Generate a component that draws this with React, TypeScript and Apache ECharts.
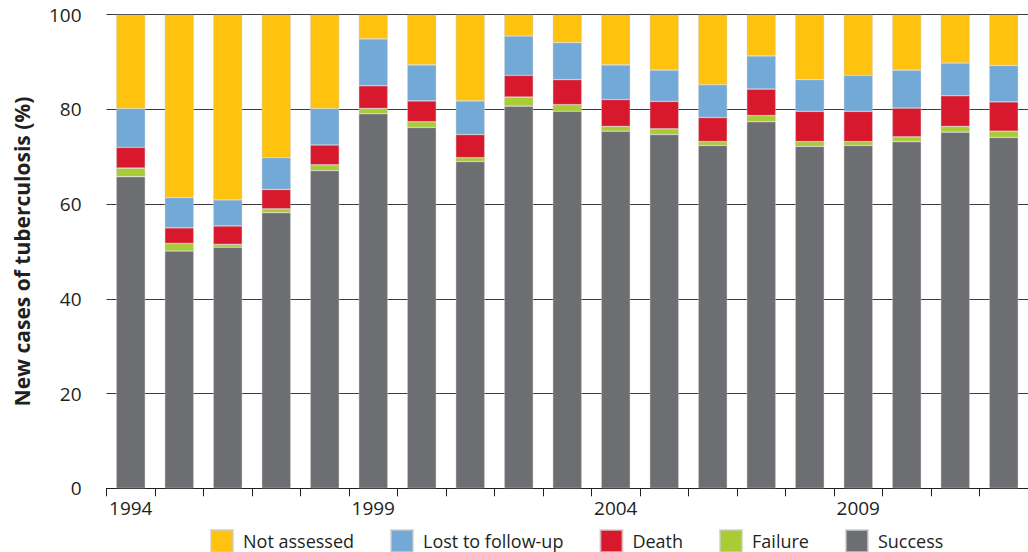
import React, { useEffect, useRef } from "react";
import * as echarts from "echarts";

const years = ["1994","1995","1996","1997","1998","1999","2000","2001","2002","2003","2004","2005","2006","2007","2008","2009","2010","2011","2012"];
const success = [65.8, 50.1, 50.9, 58.2, 67.1, 79.1, 76.2, 69.0, 80.7, 79.6, 75.4, 74.7, 72.4, 77.4, 72.2, 72.4, 73.2, 75.2, 74.1];
const failure = [1.8, 1.6, 0.6, 0.8, 1.2, 1.1, 1.2, 0.8, 1.9, 1.4, 1.0, 1.2, 0.8, 1.3, 1.0, 0.8, 1.0, 1.2, 1.3];
const death = [4.4, 3.3, 3.9, 4.1, 4.2, 4.8, 4.4, 4.9, 4.6, 5.3, 5.7, 5.8, 5.1, 5.6, 6.4, 6.4, 6.1, 6.5, 6.2];
const lost = [8.2, 6.4, 5.5, 6.7, 7.7, 9.9, 7.6, 7.1, 8.3, 7.8, 7.3, 6.6, 6.9, 7.0, 6.7, 7.6, 8.0, 6.9, 7.7];
const notAssessed = [19.8, 38.6, 39.1, 30.2, 19.8, 5.1, 10.6, 18.2, 4.5, 5.9, 10.6, 11.7, 14.8, 8.7, 13.7, 12.8, 11.7, 10.2, 10.7];
const yTicks = [0, 20, 40, 60, 80, 100];

const colors = {
  "Not assessed": "#FFC20F",
  "Lost to follow-up": "#73A9D7",
  Death: "#D8192D",
  Failure: "#A9CB36",
  Success: "#6D6E72",
};

export default function App() {
  const ref = useRef<HTMLDivElement>(null);
  useEffect(() => {
    if (!ref.current) return;
    const chart = echarts.init(ref.current, undefined, { renderer: "svg" });
    const font = "'Open Sans', sans-serif";
    const mk = (name: string, data: number[]) => ({
      name,
      type: "bar",
      stack: "total",
      barWidth: 29,
      data,
      itemStyle: {
        color: (colors as any)[name],
        borderColor: "rgba(205,205,205,0.7)",
        borderWidth: 0.6,
      },
    });
    chart.setOption({
      animation: false,
      textStyle: { fontFamily: font },
      grid: { left: 106.5, top: 14.7, width: 926, height: 473.6, containLabel: false },
      legend: {
        left: 210,
        top: 529,
        padding: 0,
        itemWidth: 22,
        itemHeight: 22,
        itemGap: 36,
        icon: "rect",
        data: ["Not assessed", "Lost to follow-up", "Death", "Failure", "Success"],
        textStyle: { fontFamily: font, fontSize: 18, color: "#231F20", padding: [0, 0, 0, 5] },
      },
      xAxis: {
        type: "category",
        data: years,
        boundaryGap: true,
        axisLine: { show: true, lineStyle: { color: "#231F20", width: 1 } },
        axisTick: { show: true, interval: 0, length: 8, lineStyle: { color: "#231F20", width: 1 } },
        axisLabel: { interval: 4, margin: 10, fontSize: 19, color: "#231F20", fontFamily: font },
      },
      yAxis: {
        type: "value",
        min: yTicks[0],
        max: yTicks[yTicks.length - 1],
        interval: 20,
        name: "New cases of tuberculosis (%)",
        nameLocation: "middle",
        nameGap: 74,
        nameRotate: 90,
        nameTextStyle: { fontFamily: font, fontSize: 21, fontWeight: "bold", color: "#231F20" },
        axisLine: { show: false },
        axisTick: { show: false },
        axisLabel: { margin: 25, fontSize: 19, color: "#231F20", fontFamily: font },
        splitLine: { show: true, lineStyle: { color: "#3C3C3C", width: 1 } },
      },
      series: [
        mk("Success", success),
        mk("Failure", failure),
        mk("Death", death),
        mk("Lost to follow-up", lost),
        mk("Not assessed", notAssessed),
      ],
    });
    return () => chart.dispose();
  }, []);
  return (
    <div
      ref={ref}
      style={{ position: "absolute", left: 0, top: 0, width: 1028, height: 552, background: "#fff" }}
    />
  );
}
